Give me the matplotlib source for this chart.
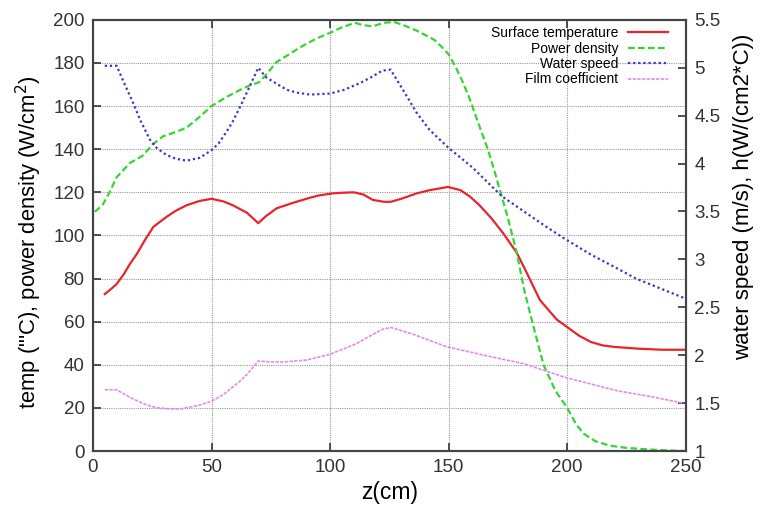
import numpy as np
import matplotlib.pyplot as plt

plt.rcParams['font.family'] = ['Liberation Sans', 'DejaVu Sans']

# Surface temperature (left axis)
z_temp = [5, 8, 10, 13, 15.6, 18.5, 22, 25.5, 31, 35, 39.5, 45, 50, 55, 59, 65, 69.7,
          73, 77.5, 84, 90, 95, 101, 105, 110, 114, 118, 122.7, 125.6, 130, 136.5,
          142, 149.7, 155, 159, 163, 168, 173, 178.7, 183, 188.5, 195.6, 200, 205,
          210, 215, 220, 230, 240, 250]
temp = [72.8, 75.5, 77.5, 82, 86.8, 91.4, 98, 104, 108.6, 111.5, 114, 116, 117, 115.8,
        114, 110.5, 105.7, 109, 112.6, 115, 117, 118.5, 119.5, 119.8, 120, 119, 116.5,
        115.6, 115.6, 117, 119.5, 121, 122.5, 121, 118, 114, 108, 101, 92, 82.5,
        70, 61, 57.5, 53.5, 50.6, 49, 48.3, 47.5, 47, 47]

# Power density (left axis)
z_power = [0.8, 4, 7, 10, 15.6, 21, 25, 29.6, 35, 39.5, 45, 50, 56, 62, 66, 70, 73,
           77.5, 82, 87, 91, 95.7, 100, 105, 110.5, 114, 118, 122.7, 127, 131,
           136.5, 140, 144, 147, 150, 153, 156, 159, 162, 166.6, 169, 172.4, 175,
           178.7, 182, 185, 190, 195, 200, 204, 207, 212, 218, 225, 235, 245, 250]
power = [111, 114, 120, 127, 133.6, 137, 142, 146, 148, 150, 155, 160, 164, 167.5,
         169.5, 171, 174.5, 180.5, 183.5, 187, 189.5, 192, 194, 196.5, 198.6, 197.5,
         197, 198.6, 199, 197.5, 195, 193, 190.7, 187.5, 184, 178, 171, 163, 153.6,
         139.7, 131, 118, 108, 92, 74, 61, 40, 28, 20, 12, 8, 4.5, 2.5, 1.5, 0.7, 0.2, 0]

# Water speed (right axis)
z_speed = [5, 10, 13, 17, 20, 24, 27, 31, 35, 39.5, 45, 50, 53, 56, 59, 62, 66, 69.7,
           73, 77, 81.7, 86, 91.5, 100, 106, 112.6, 118, 122, 125.5, 130, 136.5,
           142, 149.7, 160, 172.4, 180, 190, 198, 210, 220, 229, 240, 249]
speed = [5.02, 5.02, 4.85, 4.63, 4.45, 4.25, 4.16, 4.09, 4.05, 4.03, 4.06, 4.14, 4.21,
         4.32, 4.44, 4.59, 4.8, 5.0, 4.9, 4.84, 4.77, 4.74, 4.72, 4.73, 4.77, 4.84,
         4.91, 4.97, 4.98, 4.8, 4.53, 4.35, 4.17, 3.96, 3.66, 3.53, 3.36, 3.23, 3.05,
         2.92, 2.8, 2.69, 2.6]

# Film coefficient (right axis)
z_film = [5, 10, 15.6, 20, 24, 28, 32.5, 37, 41, 45, 50, 55, 59, 62, 65, 69.7, 75, 80,
          90, 100, 105, 111, 116, 122, 125.6, 135, 149, 165, 182, 199, 210, 221,
          235, 249]
film = [1.64, 1.64, 1.56, 1.51, 1.47, 1.45, 1.44, 1.44, 1.46, 1.48, 1.52, 1.59, 1.67,
        1.73, 1.8, 1.94, 1.93, 1.93, 1.95, 2.01, 2.06, 2.12, 2.19, 2.27, 2.29, 2.22,
        2.09, 2.0, 1.91, 1.77, 1.7, 1.63, 1.57, 1.5]

fig = plt.figure(figsize=(7.68, 5.08), dpi=100)
ax = fig.add_axes([0.121, 0.112, 0.772, 0.849])
ax2 = ax.twinx()

l1, = ax.plot(z_temp, temp, color='#e8252b', lw=1.6, label='Surface temperature')
l2, = ax.plot(z_power, power, color='#33d633', lw=1.6, ls=(0, (3, 1.5)), label='Power density')
l3, = ax2.plot(z_speed, speed, color='#3838c8', lw=1.6, ls=(0, (1, 1.3)), label='Water speed')
l4, = ax2.plot(z_film, film, color='#e888e8', lw=1.2, ls=(0, (2, 0.8)), label='Film coefficient')

ax.set_xlim(0, 250)
ax.set_ylim(0, 200)
ax2.set_ylim(1, 5.5)
ax.set_xticks(np.arange(0, 251, 50))
ax.set_yticks(np.arange(0, 201, 20))
ax2.set_yticks(np.arange(1, 5.51, 0.5))
ax2.set_yticklabels(['1', '1.5', '2', '2.5', '3', '3.5', '4', '4.5', '5', '5.5'])

ax.grid(True, color='#999999', ls=(0, (1, 1)), lw=0.8)
ax.tick_params(direction='in', length=6, width=1.2, labelsize=13.5, top=True, pad=6,
               colors='#333333')
ax2.tick_params(direction='in', length=6, width=1.2, labelsize=13.5, pad=6, colors='#333333')
for a in (ax, ax2):
    for s in a.spines.values():
        s.set_linewidth(1.5)
        s.set_color('#444444')

ax.set_xlabel('z(cm)', fontsize=16.5, labelpad=3)
ax.set_ylabel('temp ("\'C), power density (W/cm$^2$)', fontsize=15.8)
ax.yaxis.set_label_coords(-0.082, 0.485)
ax2.set_ylabel('water speed (m/s), h(W/(cm2*C))', fontsize=16)
ax2.yaxis.set_label_coords(1.08, 0.59)

ax2.legend(handles=[l1, l2, l3, l4], loc='upper right', bbox_to_anchor=(0.97, 0.985),
           frameon=False, markerfirst=False, fontsize=10, handlelength=2.9,
           labelspacing=0.1, handletextpad=0.7, borderpad=0, borderaxespad=0)

fig.savefig('out.png', dpi=100)
